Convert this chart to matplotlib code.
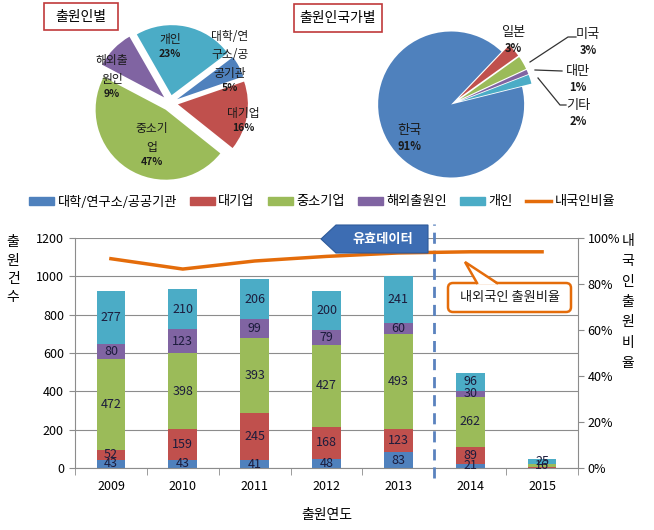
import matplotlib
matplotlib.use("Agg")
import matplotlib.pyplot as plt
import numpy as np
from matplotlib.patches import Patch, Polygon, FancyBboxPatch, Rectangle
from matplotlib.lines import Line2D
from matplotlib.ticker import PercentFormatter

plt.rcParams['font.family'] = ['Noto Sans CJK KR', 'DejaVu Sans']

# ---- data ----
years = ['2009', '2010', '2011', '2012', '2013', '2014', '2015']
series_names = ['대학/연구소/공공기관', '대기업', '중소기업', '해외출원인', '개인']
univ = [43, 43, 41, 48, 83, 21, 2]
large = [52, 159, 245, 168, 123, 89, 3]
sme = [472, 398, 393, 427, 493, 262, 16]
foreign = [80, 123, 99, 79, 60, 30, 2]
indiv = [277, 210, 206, 200, 241, 96, 25]
domestic_ratio = [0.91, 0.865, 0.90, 0.92, 0.935, 0.94, 0.94]

pie1_names = [['대학/연', '구소/공', '공기관'], ['대기업'], ['중소기', '업'], ['해외출', '원인'], ['개인']]
pie1_values = [5, 16, 47, 9, 23]
pie2_names = ['한국', '일본', '미국', '대만', '기타']
pie2_values = [91, 3, 3, 1, 2]

colors = ['#4F81BD', '#C0504D', '#9BBB59', '#8064A2', '#4BACC6']
line_color = '#E46C0A'
grid_color = '#8c8c8c'
label_color = '#1c1c3c'

W, H = 654, 530
fig = plt.figure(figsize=(W / 100, H / 100), dpi=100)

# ---- stacked bars + ratio line ----
ax = fig.add_axes([75 / W, 1 - 468 / H, (578 - 75) / W, (468 - 238) / H])
x = np.arange(len(years))
bottom = np.zeros(len(years))
for vals, c in zip([univ, large, sme, foreign, indiv], colors):
    bars = ax.bar(x, vals, 0.4, bottom=bottom, color=c, zorder=2)
    labs = [str(v) if v >= 10 else '' for v in vals]
    ax.bar_label(bars, labels=labs, label_type='center', fontsize=9, color=label_color)
    bottom += np.array(vals)

ax.set_xlim(-0.5, len(years) - 0.5)
ax.set_ylim(0, 1200)
ax.set_yticks(range(0, 1201, 200))
ax.yaxis.grid(True, color=grid_color, lw=0.8)
ax.set_axisbelow(True)
ax.set_xticks(x, years)
ax.set_xticks(np.arange(-0.5, len(years), 1), minor=True)
ax.tick_params(axis='x', which='major', length=0, pad=9, labelsize=9)
ax.tick_params(axis='x', which='minor', length=5, color=grid_color)
ax.tick_params(axis='y', length=4, pad=4, labelsize=9, color=grid_color)
for s in ['top', 'right']:
    ax.spines[s].set_visible(False)
for s in ['left', 'bottom']:
    ax.spines[s].set_color(grid_color)

ax.axvline(4.5, ymin=-0.045, ymax=1.06, clip_on=False, ls=(0, (4, 2.5)),
           color='#5A82BE', lw=2, zorder=3)

ax2 = ax.twinx()
ax2.plot(x, domestic_ratio, color=line_color, lw=2.5)
ax2.set_ylim(0, 1)
ax2.set_yticks(np.linspace(0, 1, 6))
ax2.yaxis.set_major_formatter(PercentFormatter(1.0, decimals=0))
ax2.tick_params(axis='y', length=4, pad=3, labelsize=9, color=grid_color)
for s in ['top', 'left', 'bottom']:
    ax2.spines[s].set_visible(False)
ax2.spines['right'].set_color(grid_color)

# axis titles (stacked characters)
for i, ch in enumerate('출원건수'):
    fig.text(13 / W, 1 - (242 + i * 18.5) / H, ch, ha='center', va='center', fontsize=10)
for i, ch in enumerate('내국인출원비율'):
    fig.text(628 / W, 1 - (241 + i * 20.3) / H, ch, ha='center', va='center', fontsize=10)
fig.text(327 / W, 1 - 515 / H, '출원연도', ha='center', va='center', fontsize=10)

# legend
handles = [Patch(color=c, label=n) for c, n in zip(colors, series_names)]
handles.append(Line2D([0], [0], color=line_color, lw=2.5, label='내국인비율'))
fig.legend(handles=handles, loc='center', bbox_to_anchor=(322 / W, 1 - 202 / H), ncol=6,
           frameon=False, fontsize=9.5, handlelength=1.9, handleheight=0.55,
           handletextpad=0.25, columnspacing=1.0, borderaxespad=0)

# ---- overlay for pies and callouts (pixel coordinates, y up) ----
ov = fig.add_axes([0, 0, 1, 1])
ov.patch.set_visible(False)

def Y(py):
    return H - py

# explode is given in pixels here (pie offsets in data units)
ov.pie(pie1_values, colors=colors, startangle=37, counterclock=False, radius=70,
       center=(170, Y(103)), explode=[8] * 5, wedgeprops=dict(lw=0))
ov.pie(pie2_values, colors=colors, startangle=14, counterclock=False, radius=73,
       center=(452, Y(104)), explode=[1, 9, 9, 9, 9], wedgeprops=dict(lw=0))
ov.set_xlim(0, W)
ov.set_ylim(0, H)
ov.set_aspect('auto')
ov.axis('off')

# pie titles
for (x0, y0, w, h, t) in [(44, 3, 74, 27, '출원인별'), (294, 4, 88, 28, '출원인국가별')]:
    ov.add_patch(Rectangle((x0, Y(y0 + h)), w, h, fill=True, fc='white',
                           ec='#C0393B', lw=1.2))
    ov.text(x0 + w / 2, Y(y0 + h / 2), t, ha='center', va='center', fontsize=10)

# pie1 labels: (x, y of percent line)
pie1_pos = [(230, 88), (243, 128), (152, 162), (112, 94), (170, 54)]
for (px, py), lines, v in zip(pie1_pos, pie1_names, pie1_values):
    n = len(lines)
    for i, ln in enumerate(lines):
        ov.text(px, Y(py - 15 - (n - 1 - i) * 18.5), ln, ha='center', va='center',
                fontsize=8.5, color='#1a1a1a')
    ov.text(px, Y(py), f'{v}%', ha='center', va='center', fontsize=7.5,
            fontweight='bold', color='#1a1a1a')

# pie2 labels
pie2_pos = [(409, 138), (513, 40), (588, 42), (578, 79), (578, 113)]
for (px, py), name, v in zip(pie2_pos, pie2_names, pie2_values):
    ov.text(px, Y(py - 1), name, ha='center', va='bottom', fontsize=9.5, color='#1a1a1a')
    ov.text(px, Y(py + 2), f'{v}%', ha='center', va='top', fontsize=8,
            fontweight='bold', color='#1a1a1a')

# leader lines for small slices
for pts in [[(530, 62), (568, 37), (576, 37)],
            [(535, 70), (562, 71)],
            [(538, 78), (560, 105), (566, 105)]]:
    ov.plot([p[0] for p in pts], [Y(p[1]) for p in pts], color='#333333', lw=0.9)

# "유효데이터" arrow banner
ov.add_patch(Polygon([(321, Y(239)), (336, Y(225)), (428, Y(225)), (428, Y(253)),
                      (336, Y(253))], closed=True, fc='#3D6DB3', ec='#2D5A9A', lw=0.8))
ov.text(383, Y(239), '유효데이터', ha='center', va='center', fontsize=9.5,
        color='white', fontweight='bold')

# "내외국인 출원비율" callout
ov.add_patch(FancyBboxPatch((448, Y(312)), 123, 29,
                            boxstyle='round,pad=0,rounding_size=5',
                            fc='white', ec=line_color, lw=1.8))
ov.add_patch(Polygon([(477, Y(284.5)), (465, Y(262)), (497, Y(284.5))], closed=True,
                     fc='white', ec='none'))
ov.plot([477, 465, 497], [Y(283), Y(262), Y(283)], color=line_color, lw=1.8,
        solid_joinstyle='miter')
ov.text(510, Y(297.5), '내외국인 출원비율', ha='center', va='center', fontsize=9.5,
        color='#1a1a1a')

fig.savefig('out.png', dpi=100)
